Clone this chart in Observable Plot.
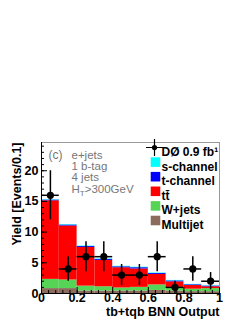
<!DOCTYPE html>
<html><head><meta charset="utf-8">
<script src="https://cdn.jsdelivr.net/npm/d3@7"></script>
<script src="https://cdn.jsdelivr.net/npm/@observablehq/plot@0.6"></script>
<style>body{margin:0;background:#fff}</style>
</head><body><div id="chart"></div>
<script>
// bin lower edges (width 0.1)
const binLow = [0, 0.1, 0.2, 0.3, 0.4, 0.5, 0.6, 0.7, 0.8, 0.9];
const binWidth = 0.1;
// stacked components, bottom to top
const multijet = [0.8, 0.8, 0.4, 0.4, 0.4, 0.4, 0.5, 0.4, 0.3, 0.3];
const wjets    = [1.5, 1.4, 0.8, 0.7, 0.5, 0.6, 0.9, 0.6, 0.4, 0.5];
const ttbar    = [12.8, 8.8, 6.3, 4.3, 3.3, 3.0, 1.7, 0.9, 0.6, 0.3];
const tchan    = [0.12, 0.15, 0.15, 0.15, 0.15, 0.2, 0.15, 0.15, 0.12, 0.1];
const schan    = [0.06, 0.08, 0.08, 0.08, 0.08, 0.08, 0.08, 0.08, 0.06, 0.05];
// observed data
const obs    = [16, 4, 6, 6, 3, 3, 6, 1, 4, 2];
const obsErr = [4, 2, 2.45, 2.45, 1.73, 1.73, 2.45, 1, 2, 1.41];
// ticks
const xTicks = [0, 0.2, 0.4, 0.6, 0.8, 1];
const xMinor = d3.range(0, 1.0001, 0.04);
const yTicks = [0, 5, 10, 15, 20];
const yMinor = d3.range(0, 25, 1);
// legend & labels
const compNames  = ["Multijet", "W+jets", "tt̄", "t-channel", "s-channel"];
const compColors = ["#8c6b5c", "#55d455", "#ff0000", "#0000ff", "#00ffff"];
const legendOrder = ["s-channel", "t-channel", "tt̄", "W+jets", "Multijet"];
const dataLabel = "DØ 0.9 fb¹";
const infoLines = ["e+jets", "1 b-tag", "4 jets", "HT>300GeV"];
const panelTag = "(c)";
const xLabel = "tb+tqb BNN Output";
const yLabel = "Yield [Events/0.1]";

const comps = [multijet, wjets, ttbar, tchan, schan];
const rows = [];
binLow.forEach((x, i) => comps.forEach((arr, c) =>
  rows.push({x1: x, x2: x + binWidth, v: arr[i], comp: compNames[c]})));
const pts = binLow.map((x, i) => ({x: x + binWidth / 2, y: obs[i], e: obsErr[i]}));

const lineH = 14.6;
const infoH = 11.4;

const infoMarks = infoLines.map((t, i) =>
  Plot.text([t], {text: d => d, frameAnchor: "top-left", textAnchor: "start", dx: 30, dy: 8 + i * infoH, fill: "#777", fontSize: 11.5, fontWeight: "normal"}));
const legendMarks = legendOrder.flatMap((name, i) => [
  Plot.dot([name], {frameAnchor: "top-right", dx: -64, dy: 5 + (i + 1) * lineH, symbol: "square", r: 5.4, fill: d => d}),
  Plot.text([name], {text: d => d, frameAnchor: "top-right", textAnchor: "start", dx: -58, dy: 5 + (i + 1) * lineH, fontSize: 12, fontWeight: "bold"})
]);

const plot = Plot.plot({
  width: 249, height: 323,
  marginLeft: 41, marginRight: 30, marginTop: 142, marginBottom: 30,
  style: {fontFamily: "Liberation Sans, Arial, sans-serif", fontSize: "12px", fontWeight: "bold", background: "#fff", color: "#000"},
  x: {domain: [0, 1]},
  y: {domain: [0, 24.6]},
  color: {domain: compNames, range: compColors},
  marks: [
    Plot.rectY(rows, Plot.stackY({x1: "x1", x2: "x2", y: "v", fill: "comp", order: null})),
    Plot.frame({stroke: "#999", strokeWidth: 1}),
    Plot.ruleX([0], {stroke: "#000"}),
    Plot.ruleY([0], {stroke: "#000"}),
    Plot.axisY({ticks: yMinor, tickSize: -3, tickFormat: () => "", stroke: "#000"}),
    Plot.axisY({ticks: yTicks, tickSize: -6, tickPadding: 9, label: null, fontSize: 12.5, fontWeight: "bold", stroke: "#000", fill: "#000"}),
    Plot.axisX({ticks: xMinor, tickSize: -3, tickFormat: () => "", stroke: "#000"}),
    Plot.axisX({ticks: xTicks, tickSize: -6, tickPadding: 6, tickFormat: d => String(d), label: null, fontSize: 12.5, fontWeight: "bold", stroke: "#000", fill: "#000"}),
    // data
    Plot.ruleX(pts, {x: "x", y1: d => d.y - d.e, y2: d => d.y + d.e, stroke: "#000", strokeWidth: 1.5}),
    Plot.ruleY(pts, {y: "y", x1: d => d.x - binWidth / 2, x2: d => d.x + binWidth / 2, stroke: "#000", strokeWidth: 1.5}),
    Plot.dot(pts, {x: "x", y: "y", r: 3.6, fill: "#000"}),
    // axis titles
    Plot.text([xLabel], {text: d => d, frameAnchor: "bottom-right", textAnchor: "end", dy: 22, fontSize: 12.5, fontWeight: "bold"}),
    Plot.text([yLabel], {text: d => d, frameAnchor: "top-left", textAnchor: "end", rotate: -90, dx: -29, fontSize: 12.5, fontWeight: "bold"}),
    // panel annotation
    Plot.text([panelTag], {text: d => d, frameAnchor: "top-left", textAnchor: "start", dx: 7, dy: 8, fill: "#777", fontSize: 12, fontWeight: "normal"}),
    ...infoMarks,
    // legend: data entry
    Plot.dot([dataLabel], {frameAnchor: "top-right", dx: -65, dy: 5, r: 5.5, symbol: "plus", stroke: "#000", strokeWidth: 1.2}),
    Plot.dot([dataLabel], {frameAnchor: "top-right", dx: -65, dy: 5, r: 2.6, fill: "#000"}),
    Plot.text([dataLabel], {text: d => d, frameAnchor: "top-right", textAnchor: "start", dx: -58, dy: 5, fontSize: 12, fontWeight: "bold"}),
    ...legendMarks
  ]
});
// subscript T in H_T
d3.select(plot).selectAll("text").each(function() {
  if (this.textContent === "HT>300GeV") {
    const t = d3.select(this);
    t.text(null);
    t.append("tspan").text("H");
    t.append("tspan").attr("font-size", "8").attr("dy", "3").text("T");
    t.append("tspan").attr("dy", "-3").text(">300GeV");
  }
});
document.getElementById("chart").append(plot);
</script>
</body></html>
